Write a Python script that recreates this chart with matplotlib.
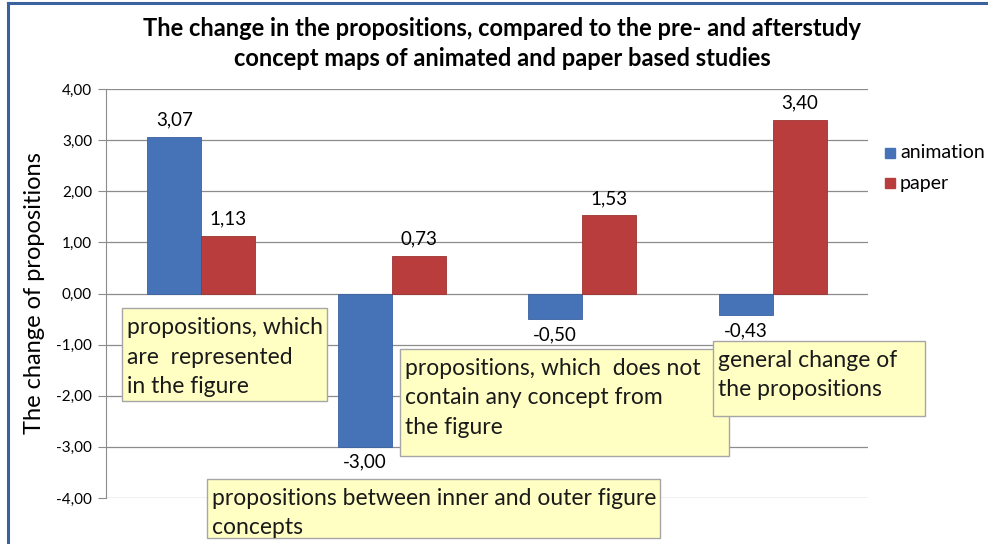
import numpy as np
import matplotlib.pyplot as plt
from matplotlib.patches import Rectangle

# data
categories = ["propositions, which\nare  represented\nin the figure",
              "propositions between inner and outer figure\nconcepts",
              "propositions, which  does not\ncontain any concept from\nthe figure",
              "general change of\nthe propositions"]
animation = [3.07, -3.00, -0.50, -0.43]
paper = [1.13, 0.73, 1.53, 3.40]
series_names = ["animation", "paper"]
yticks = [-4, -3, -2, -1, 0, 1, 2, 3, 4]

plt.rcParams['font.family'] = ['Lato', 'DejaVu Sans']

W, H = 988, 544
fig = plt.figure(figsize=(W / 100, H / 100), dpi=100)
fig.patch.set_facecolor("white")

# blauer Rahmen links und oben
fig.add_artist(plt.Line2D([8 / W, 8 / W], [0, 1 - 3 / H], color="#3B62A0", lw=2.2))
fig.add_artist(plt.Line2D([8 / W, 1], [1 - 3 / H, 1 - 3 / H], color="#3B62A0", lw=2.2))

ax = fig.add_axes([106 / W, 1 - 498 / H, 762 / W, 409 / H])
x = np.arange(len(categories))
bw = 0.2835
blue = "#4672B8"
red = "#B93D3C"
b1 = ax.bar(x - bw / 2, animation, bw, color=blue, edgecolor="#3A62A0", lw=0.6, label=series_names[0], zorder=3)
b2 = ax.bar(x + bw / 2, paper, bw, color=red, edgecolor="#9E3331", lw=0.6, label=series_names[1], zorder=3)

for bars, vals in [(b1, animation), (b2, paper)]:
    for r, v in zip(bars, vals):
        lab = f"{v:.2f}".replace(".", ",")
        cx = r.get_x() + r.get_width() / 2
        if v >= 0:
            ax.annotate(lab, (cx, v), xytext=(0, 6), textcoords="offset points",
                        ha="center", va="bottom", fontsize=13.5)
        else:
            ax.annotate(lab, (cx, v), xytext=(0, -5), textcoords="offset points",
                        ha="center", va="top", fontsize=13.5)

ax.set_xlim(-0.5, 3.5)
ax.set_ylim(-4, 4)
ax.set_yticks(yticks)
ax.set_yticklabels([f"{t:.2f}".replace(".", ",") for t in yticks], fontsize=11)
ax.set_xticks([])
ax.grid(axis="y", color="#8C8C8C", lw=0.9, zorder=0)
for s in ["top", "right", "bottom"]:
    ax.spines[s].set_visible(False)
ax.spines["left"].set_color("#8C8C8C")
ax.tick_params(axis="y", length=6, color="#8C8C8C", pad=4)
ax.set_ylabel("The change of propositions", fontsize=17, labelpad=8)

fig.text(502 / W, 1 - 29 / H, "The change in the propositions, compared to the pre- and afterstudy",
         ha="center", va="center", fontsize=17, fontweight="bold")
fig.text(502 / W, 1 - 59 / H, "concept maps of animated and paper based studies",
         ha="center", va="center", fontsize=17, fontweight="bold")

# Legende
for i, (name, c) in enumerate(zip(series_names, [blue, red])):
    yc = 153 + i * 30
    fig.add_artist(Rectangle((885 / W, 1 - (yc + 5) / H), 10 / W, 10 / H, color=c, transform=fig.transFigure))
    fig.text(900 / W, 1 - yc / H, name, ha="left", va="center", fontsize=14)

# gelbe Beschriftungskästen (x0, y0, x1, y1 in Pixel)
boxes = [(122, 308, 327, 401), (207, 479, 660, 538), (400, 349, 729, 456), (713, 341, 925, 416)]
for i in range(len(boxes)):
    x0, y0, x1, y1 = boxes[i]
    fig.add_artist(Rectangle((x0 / W, 1 - y1 / H), (x1 - x0) / W, (y1 - y0) / H,
                             facecolor="#FFFFC4", edgecolor="#A6A6A6", lw=1.0, transform=fig.transFigure))
    fig.text((x0 + 5) / W, 1 - (y0 + 9) / H, categories[i], ha="left", va="top",
             fontsize=16.5, linespacing=1.5, color="#1A1A1A")

fig.savefig("out.png", dpi=100)
